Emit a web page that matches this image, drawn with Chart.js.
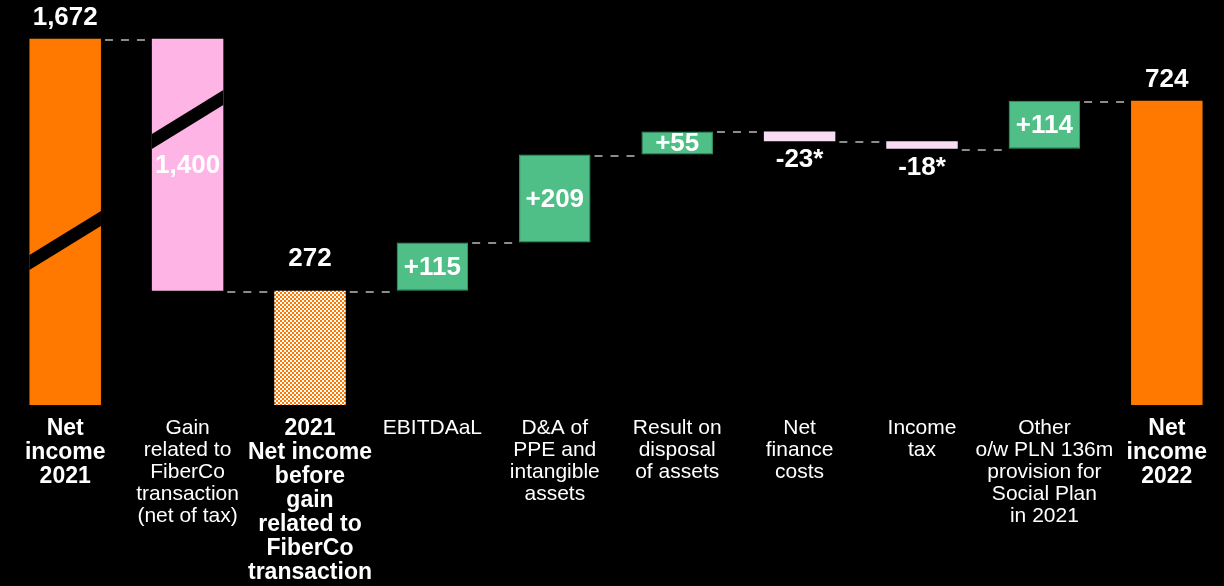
<!DOCTYPE html>
<html>
<head>
<meta charset="utf-8">
<script src="https://cdn.jsdelivr.net/npm/chart.js@4"></script>
<style>
  html, body { margin: 0; padding: 0; background: #000; overflow: hidden; width: 1224px; height: 586px; }
  canvas { display: block; }
</style>
</head>
<body>
<canvas id="bridge" width="1228" height="598"></canvas>
<script>
// Net income bridge 2021 -> 2022 (PLN m)
const categories = [
  ["Net", "income", "2021"],
  ["Gain", "related to", "FiberCo", "transaction", "(net of tax)"],
  ["2021", "Net income", "before", "gain", "related to", "FiberCo", "transaction"],
  ["EBITDAaL"],
  ["D&A of", "PPE and", "intangible", "assets"],
  ["Result on", "disposal", "of assets"],
  ["Net", "finance", "costs"],
  ["Income", "tax"],
  ["Other", "o/w PLN 136m", "provision for", "Social Plan", "in 2021"],
  ["Net", "income", "2022"]
];
const values    = [1672, -1400, 272, 115, 209, 55, -23, -18, 114, 724];
const isTotal   = [true, false, true, false, false, false, false, false, false, true];
const showSign  = [false, false, false, true, true, true, true, true, true, false];
const footnotes = ["", "", "", "", "", "", "*", "*", "", ""];

// Values between these two are cut out of the vertical axis
const axisBreak = { from: 760, to: 1560 };

// ---- styling ----
const FONT = '"Liberation Sans", Arial, Helvetica, sans-serif';
const ORANGE = '#ff7900', PINK = '#ffb4e6', LIGHT_PINK = '#f7dcf4', GREEN = '#50be87';

function checker() {
  const c = document.createElement('canvas');
  c.width = 4; c.height = 4;
  const g = c.getContext('2d');
  g.fillStyle = '#ffffff'; g.fillRect(0, 0, 4, 4);
  g.fillStyle = ORANGE; g.fillRect(0, 0, 2, 2); g.fillRect(2, 2, 2, 2);
  return g.createPattern(c, 'repeat');
}
const barColors = [ORANGE, PINK, checker(), GREEN, GREEN, GREEN, LIGHT_PINK, LIGHT_PINK, GREEN, ORANGE];
const borderColors = barColors.map(c => c === GREEN ? '#3d9f6f' : 'rgba(0,0,0,0)');
const borderWidths = barColors.map(c => c === GREEN ? 1 : 0);
const labelPlace = ['above', 'inside', 'above', 'inside', 'inside', 'inside', 'below', 'below', 'inside', 'above'];
const labelLift = { 2: 11 };
const breakMarks = [{ index: 0, at: 0.449 }, { index: 1, at: 0.679 }];

// ---- waterfall geometry from the values ----
const ranges = [];
const ends = [];
let running = 0;
values.forEach((v, i) => {
  if (isTotal[i]) { ranges.push([0, v]); running = v; }
  else { ranges.push([running, running + v]); running += v; }
  ends.push(running);
});

function valueText(i) {
  const v = values[i];
  const n = Math.abs(v).toLocaleString('en-US');
  const sign = showSign[i] ? (v > 0 ? '+' : '-') : '';
  return sign + n + footnotes[i];
}

// Linear scale with a cut-out section
class BrokenLinearScale extends Chart.LinearScale {
  squash(v) {
    if (v <= axisBreak.from) return v;
    if (v >= axisBreak.to) return v - (axisBreak.to - axisBreak.from);
    return axisBreak.from;
  }
  getPixelForValue(v) { return super.getPixelForValue(this.squash(v)); }
}
BrokenLinearScale.id = 'brokenLinear';
BrokenLinearScale.defaults = Chart.LinearScale.defaults;
Chart.register(BrokenLinearScale);

const waterfallDecor = {
  id: 'waterfallDecor',
  afterDatasetsDraw(chart) {
    const ctx = chart.ctx;
    const bars = chart.getDatasetMeta(0).data;
    const yScale = chart.scales.y;

    // dashed connectors between consecutive bars
    ctx.save();
    ctx.strokeStyle = '#8c8c8c';
    ctx.lineWidth = 2;
    ctx.setLineDash([8, 8]);
    for (let i = 0; i < bars.length - 1; i++) {
      const a = bars[i], b = bars[i + 1];
      const py = Math.round(yScale.getPixelForValue(ends[i])) + 1;
      ctx.beginPath();
      ctx.moveTo(a.x + a.width / 2 + 4, py);
      ctx.lineTo(b.x - b.width / 2 - 1, py);
      ctx.stroke();
    }
    ctx.restore();

    // axis-break stripes across the tall bars
    ctx.save();
    ctx.fillStyle = '#000';
    breakMarks.forEach(m => {
      const el = bars[m.index];
      const top = Math.min(el.y, el.base), bottom = Math.max(el.y, el.base);
      const mid = bottom - m.at * (bottom - top);
      const l = el.x - el.width / 2, r = el.x + el.width / 2;
      const rise = 22, half = 7.5;
      ctx.beginPath();
      ctx.moveTo(l, mid + rise - half);
      ctx.lineTo(r, mid - rise - half);
      ctx.lineTo(r, mid - rise + half);
      ctx.lineTo(l, mid + rise + half);
      ctx.closePath();
      ctx.fill();
    });
    ctx.restore();

    // value labels
    ctx.save();
    ctx.fillStyle = '#fff';
    ctx.font = 'bold 26px ' + FONT;
    ctx.textAlign = 'center';
    ctx.textBaseline = 'middle';
    bars.forEach((el, i) => {
      const top = Math.min(el.y, el.base), bottom = Math.max(el.y, el.base);
      let y;
      if (labelPlace[i] === 'above') y = top - 21 - (labelLift[i] || 0);
      else if (labelPlace[i] === 'below') y = bottom + 19;
      else y = (top + bottom) / 2 + 1;
      ctx.fillText(valueText(i), el.x, y);
    });
    ctx.restore();
  }
};

new Chart(document.getElementById('bridge'), {
  type: 'bar',
  data: {
    labels: categories,
    datasets: [{
      data: ranges,
      backgroundColor: barColors,
      borderColor: borderColors,
      borderWidth: borderWidths,
      borderSkipped: false,
      categoryPercentage: 1,
      barPercentage: 0.584
    }]
  },
  options: {
    responsive: false,
    animation: false,
    events: [],
    layout: { padding: { left: 4, right: 0, top: 0, bottom: 1 } },
    plugins: { legend: { display: false }, tooltip: { enabled: false } },
    scales: {
      x: {
        grid: { display: false, drawTicks: false },
        border: { display: false },
        ticks: {
          color: '#fff',
          autoSkip: false,
          maxRotation: 0,
          minRotation: 0,
          padding: 12,
          font: (ctx) => isTotal[ctx.index]
            ? { family: FONT, size: 23, weight: 'bold', lineHeight: '24px' }
            : { family: FONT, size: 21, weight: 'normal', lineHeight: '22px' }
        }
      },
      y: {
        type: 'brokenLinear',
        display: false,
        bounds: 'data',
        min: 0,
        max: 964
      }
    }
  },
  plugins: [waterfallDecor]
});
</script>
</body>
</html>
